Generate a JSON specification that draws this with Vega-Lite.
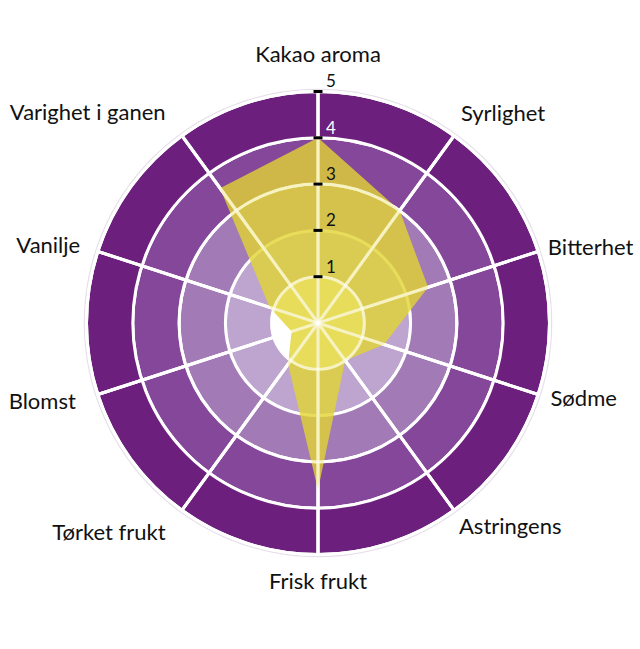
{
  "$schema": "https://vega.github.io/schema/vega-lite/v6.json",
  "width": 636,
  "height": 646,
  "autosize": {"type": "none"},
  "padding": {"left": 0, "top": 0, "right": 4, "bottom": 3},
  "background": "white",
  "config": {"view": {"stroke": null}, "font": "Lato"},
  "datasets": {
    "scores": [
      {"axis": "Kakao aroma", "score": 4},
      {"axis": "Syrlighet", "score": 3},
      {"axis": "Bitterhet", "score": 2.5},
      {"axis": "Sødme", "score": 1.5},
      {"axis": "Astringens", "score": 1},
      {"axis": "Frisk frukt", "score": 3.6},
      {"axis": "Tørket frukt", "score": 1.1},
      {"axis": "Blomst", "score": 0.6},
      {"axis": "Vanilje", "score": 1.1},
      {"axis": "Varighet i ganen", "score": 3.6}
    ],
    "levels": [
      {"level": 1, "inner": 0},
      {"level": 2, "inner": 1},
      {"level": 3, "inner": 2},
      {"level": 4, "inner": 3},
      {"level": 5, "inner": 4}
    ]
  },
  "resolve": {"scale": {"theta": "independent"}},
  "layer": [
    {
      "data": {"name": "levels"},
      "transform": [{"filter": "datum.level == 5"}],
      "mark": {"type": "arc", "theta": 0, "theta2": 6.2832, "fill": "#e7dfea"},
      "encoding": {
        "radius": {"datum": 5.06, "type": "quantitative", "scale": {"domain": [0, 5], "range": [0, 231.5], "zero": true}}
      }
    },
    {
      "data": {"name": "levels"},
      "mark": {"type": "arc", "theta": 0, "theta2": 6.2832, "stroke": "white", "strokeWidth": 3},
      "encoding": {
        "radius": {"field": "level", "type": "quantitative", "scale": {"domain": [0, 5], "range": [0, 231.5], "zero": true}},
        "radius2": {"field": "inner"},
        "color": {
          "field": "level",
          "type": "ordinal",
          "scale": {"domain": [1, 2, 3, 4, 5], "range": ["#ffffff", "#bea5cf", "#a27ab5", "#85479a", "#6c1f7c"]},
          "legend": null
        }
      }
    },
    {
      "data": {"name": "scores"},
      "mark": {"type": "arc", "fillOpacity": 0, "stroke": "white", "strokeWidth": 3},
      "encoding": {
        "theta": {"aggregate": "count", "type": "quantitative", "stack": true, "scale": {"domain": [0, 10], "range": [0, 6.283185]}},
        "detail": {"field": "axis"},
        "radius": {"datum": 5, "type": "quantitative", "scale": {"domain": [0, 5], "range": [0, 231.5], "zero": true}}
      }
    },
    {
      "data": {"name": "scores"},
      "transform": [
        {"window": [{"op": "row_number", "as": "k"}]},
        {"calculate": "datum.score * sin((datum.k - 1) * PI / 5)", "as": "px"},
        {"calculate": "datum.score * cos((datum.k - 1) * PI / 5)", "as": "py"}
      ],
      "mark": {"type": "line", "interpolate": "linear-closed", "fill": "#e1d432", "fillOpacity": 0.8, "strokeOpacity": 0},
      "encoding": {
        "x": {"field": "px", "type": "quantitative", "scale": {"domain": [-6.868, 6.868], "nice": false, "zero": false}, "axis": null},
        "y": {"field": "py", "type": "quantitative", "scale": {"domain": [-6.976, 6.976], "nice": false, "zero": false}, "axis": null},
        "order": {"field": "k"}
      }
    },
    {
      "data": {"name": "levels"},
      "mark": {"type": "arc", "theta": 0, "theta2": 6.2832, "fillOpacity": 0, "stroke": "white", "strokeOpacity": 0.4, "strokeWidth": 3},
      "encoding": {
        "radius": {"field": "level", "type": "quantitative", "scale": {"domain": [0, 5], "range": [0, 231.5], "zero": true}}
      }
    },
    {
      "data": {"name": "scores"},
      "mark": {"type": "arc", "fillOpacity": 0, "stroke": "white", "strokeOpacity": 0.4, "strokeWidth": 3},
      "encoding": {
        "theta": {"aggregate": "count", "type": "quantitative", "stack": true, "scale": {"domain": [0, 10], "range": [0, 6.283185]}},
        "detail": {"field": "axis"},
        "radius": {"datum": 5, "type": "quantitative", "scale": {"domain": [0, 5], "range": [0, 231.5], "zero": true}}
      }
    },
    {
      "data": {"name": "levels"},
      "mark": {"type": "tick", "orient": "horizontal", "color": "#000000", "size": 9, "thickness": 3, "opacity": 1},
      "encoding": {
        "x": {"datum": 0, "type": "quantitative"},
        "y": {"field": "level", "type": "quantitative"}
      }
    },
    {
      "data": {"name": "levels"},
      "mark": {"type": "text", "align": "left", "baseline": "alphabetic", "dx": 8, "dy": -4, "fontSize": 17},
      "encoding": {
        "x": {"datum": 0, "type": "quantitative"},
        "y": {"field": "level", "type": "quantitative"},
        "text": {"field": "level"},
        "color": {"condition": {"test": "datum.level == 4", "value": "white"}, "value": "#111111"}
      }
    },
    {
      "data": {"name": "scores"},
      "transform": [{"window": [{"op": "row_number", "as": "k"}]}, {"filter": "datum.k == 1"}],
      "mark": {"type": "text", "align": "center", "baseline": "bottom", "fontSize": 22, "color": "#111111"},
      "encoding": {
        "theta": {"field": "k", "type": "quantitative", "stack": null, "scale": {"domain": [1, 11], "range": [0, 6.283185]}},
        "radius": {"datum": 5.52, "type": "quantitative", "scale": {"domain": [0, 5], "range": [0, 231.5], "zero": true}},
        "text": {"field": "axis"}
      }
    },
    {
      "data": {"name": "scores"},
      "transform": [{"window": [{"op": "row_number", "as": "k"}]}, {"filter": "datum.k == 6"}],
      "mark": {"type": "text", "align": "center", "baseline": "top", "fontSize": 22, "color": "#111111"},
      "encoding": {
        "theta": {"field": "k", "type": "quantitative", "stack": null, "scale": {"domain": [1, 11], "range": [0, 6.283185]}},
        "radius": {"datum": 5.38, "type": "quantitative", "scale": {"domain": [0, 5], "range": [0, 231.5], "zero": true}},
        "text": {"field": "axis"}
      }
    },
    {
      "data": {"name": "scores"},
      "transform": [{"window": [{"op": "row_number", "as": "k"}]}, {"filter": "datum.k == 2"}],
      "mark": {"type": "text", "align": "left", "baseline": "bottom", "fontSize": 22, "color": "#111111"},
      "encoding": {
        "theta": {"field": "k", "type": "quantitative", "stack": null, "scale": {"domain": [1, 11], "range": [0, 6.283185]}},
        "radius": {"datum": 5.25, "type": "quantitative", "scale": {"domain": [0, 5], "range": [0, 231.5], "zero": true}},
        "text": {"field": "axis"}
      }
    },
    {
      "data": {"name": "scores"},
      "transform": [{"window": [{"op": "row_number", "as": "k"}]}, {"filter": "datum.k == 3"}],
      "mark": {"type": "text", "align": "left", "baseline": "middle", "fontSize": 22, "color": "#111111"},
      "encoding": {
        "theta": {"field": "k", "type": "quantitative", "stack": null, "scale": {"domain": [1, 11], "range": [0, 6.283185]}},
        "radius": {"datum": 5.22, "type": "quantitative", "scale": {"domain": [0, 5], "range": [0, 231.5], "zero": true}},
        "text": {"field": "axis"}
      }
    },
    {
      "data": {"name": "scores"},
      "transform": [{"window": [{"op": "row_number", "as": "k"}]}, {"filter": "datum.k == 4"}],
      "mark": {"type": "text", "align": "left", "baseline": "middle", "fontSize": 22, "color": "#111111"},
      "encoding": {
        "theta": {"field": "k", "type": "quantitative", "stack": null, "scale": {"domain": [1, 11], "range": [0, 6.283185]}},
        "radius": {"datum": 5.28, "type": "quantitative", "scale": {"domain": [0, 5], "range": [0, 231.5], "zero": true}},
        "text": {"field": "axis"}
      }
    },
    {
      "data": {"name": "scores"},
      "transform": [{"window": [{"op": "row_number", "as": "k"}]}, {"filter": "datum.k == 5"}],
      "mark": {"type": "text", "align": "left", "baseline": "top", "fontSize": 22, "color": "#111111"},
      "encoding": {
        "theta": {"field": "k", "type": "quantitative", "stack": null, "scale": {"domain": [1, 11], "range": [0, 6.283185]}},
        "radius": {"datum": 5.18, "type": "quantitative", "scale": {"domain": [0, 5], "range": [0, 231.5], "zero": true}},
        "text": {"field": "axis"}
      }
    },
    {
      "data": {"name": "scores"},
      "transform": [{"window": [{"op": "row_number", "as": "k"}]}, {"filter": "datum.k == 7 || datum.k == 10"}],
      "mark": {"type": "text", "align": "right", "baseline": "middle", "fontSize": 22, "color": "#111111"},
      "encoding": {
        "theta": {"field": "k", "type": "quantitative", "stack": null, "scale": {"domain": [1, 11], "range": [0, 6.283185]}},
        "radius": {"datum": 5.6, "type": "quantitative", "scale": {"domain": [0, 5], "range": [0, 231.5], "zero": true}},
        "text": {"field": "axis"}
      }
    },
    {
      "data": {"name": "scores"},
      "transform": [{"window": [{"op": "row_number", "as": "k"}]}, {"filter": "datum.k == 8"}],
      "mark": {"type": "text", "align": "right", "baseline": "middle", "fontSize": 22, "color": "#111111"},
      "encoding": {
        "theta": {"field": "k", "type": "quantitative", "stack": null, "scale": {"domain": [1, 11], "range": [0, 6.283185]}},
        "radius": {"datum": 5.5, "type": "quantitative", "scale": {"domain": [0, 5], "range": [0, 231.5], "zero": true}},
        "text": {"field": "axis"}
      }
    },
    {
      "data": {"name": "scores"},
      "transform": [{"window": [{"op": "row_number", "as": "k"}]}, {"filter": "datum.k == 9"}],
      "mark": {"type": "text", "align": "right", "baseline": "middle", "fontSize": 22, "color": "#111111"},
      "encoding": {
        "theta": {"field": "k", "type": "quantitative", "stack": null, "scale": {"domain": [1, 11], "range": [0, 6.283185]}},
        "radius": {"datum": 5.4, "type": "quantitative", "scale": {"domain": [0, 5], "range": [0, 231.5], "zero": true}},
        "text": {"field": "axis"}
      }
    }
  ]
}
